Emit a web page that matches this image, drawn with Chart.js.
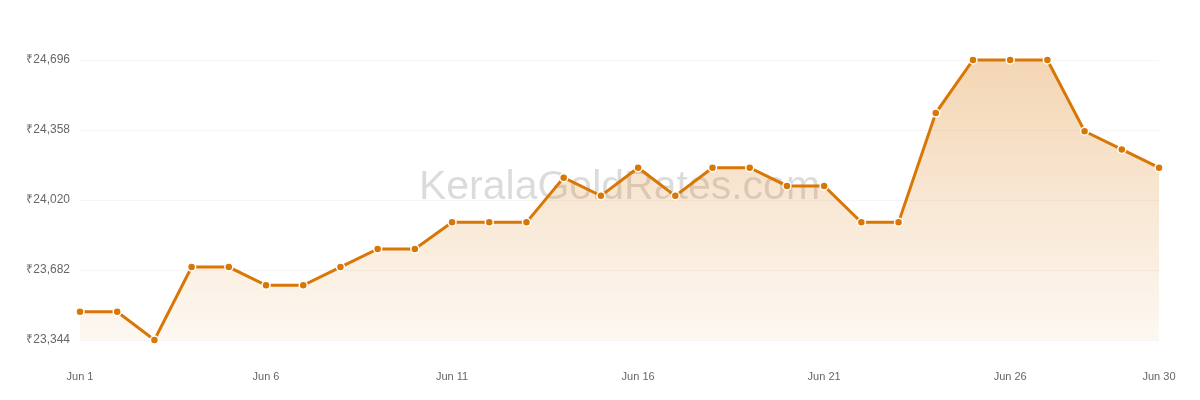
<!DOCTYPE html>
<html>
<head>
<meta charset="utf-8">
<script src="https://cdn.jsdelivr.net/npm/chart.js@4"></script>
<style>
html,body{margin:0;padding:0;background:#fff;}
#wrap{width:1200px;height:400px;position:relative;}
</style>
</head>
<body>
<div id="wrap"><canvas id="c" width="1200" height="400"></canvas></div>
<script>
const categories = ["Jun 1","Jun 2","Jun 3","Jun 4","Jun 5","Jun 6","Jun 7","Jun 8","Jun 9","Jun 10","Jun 11","Jun 12","Jun 13","Jun 14","Jun 15","Jun 16","Jun 17","Jun 18","Jun 19","Jun 20","Jun 21","Jun 22","Jun 23","Jun 24","Jun 25","Jun 26","Jun 27","Jun 28","Jun 29","Jun 30"];
const rates = [23480,23480,23344,23696,23696,23608,23608,23696,23784,23784,23912,23912,23912,24128,24040,24176,24040,24176,24176,24088,24088,23912,23912,24440,24696,24696,24696,24352,24264,24176];
const yTicks = [23344,23682,24020,24358,24696];
const shownXLabels = ["Jun 1","Jun 6","Jun 11","Jun 16","Jun 21","Jun 26","Jun 30"];
const watermarkText = "KeralaGoldRates.com";

const watermark = {
  id: 'watermark',
  beforeDatasetsDraw(chart) {
    const {ctx, chartArea} = chart;
    ctx.save();
    ctx.font = '41px "Liberation Sans", Arial, sans-serif';
    ctx.fillStyle = 'rgba(0,0,0,0.14)';
    ctx.textAlign = 'center';
    ctx.textBaseline = 'alphabetic';
    ctx.fillText(watermarkText, (chartArea.left + chartArea.right) / 2, 199);
    ctx.restore();
  }
};

const ctx = document.getElementById('c').getContext('2d');
const chart = new Chart(ctx, {
  type: 'line',
  data: {
    labels: categories,
    datasets: [{
      data: rates,
      clip: false,
      borderColor: '#d97706',
      borderWidth: 3,
      pointBackgroundColor: '#d97706',
      pointBorderColor: '#ffffff',
      pointBorderWidth: 1.5,
      pointRadius: 4,
      tension: 0,
      fill: 'start',
      backgroundColor: function(context) {
        const c = context.chart;
        const area = c.chartArea;
        if (!area) return 'rgba(217,119,6,0.2)';
        const g = c.ctx.createLinearGradient(0, area.top, 0, area.bottom);
        g.addColorStop(0, 'rgba(217,119,6,0.30)');
        g.addColorStop(1, 'rgba(217,119,6,0.05)');
        return g;
      }
    }]
  },
  options: {
    responsive: false,
    animation: false,
    layout: { padding: { left: 0, right: 41, top: 60, bottom: 0 } },
    plugins: { legend: { display: false }, tooltip: { enabled: false } },
    scales: {
      x: {
        offset: false,
        grid: { display: false, drawTicks: false },
        border: { display: false },
        afterFit(scale) { scale.height = 60; scale.paddingRight = 0; scale.paddingLeft = 0; },
        ticks: {
          autoSkip: false,
          maxRotation: 0,
          padding: 30,
          color: '#666',
          font: { family: '"Liberation Sans", Arial, sans-serif', size: 11 },
          callback: function(v, i) {
            const l = categories[i];
            return shownXLabels.includes(l) ? l : '';
          }
        }
      },
      y: {
        min: yTicks[0],
        max: yTicks[yTicks.length - 1],
        afterFit(scale) { scale.width = 80; },
        afterBuildTicks(scale) { scale.ticks = yTicks.map(v => ({ value: v })); },
        grid: { color: '#f5f5f5', drawTicks: false, lineWidth: 1 },
        border: { display: false },
        ticks: {
          padding: 10,
          color: '#666',
          font: { family: '"Liberation Sans", Arial, sans-serif', size: 12 },
          callback: v => '₹' + v.toLocaleString('en-US')
        }
      }
    }
  },
  plugins: [watermark]
});
</script>
</body>
</html>
